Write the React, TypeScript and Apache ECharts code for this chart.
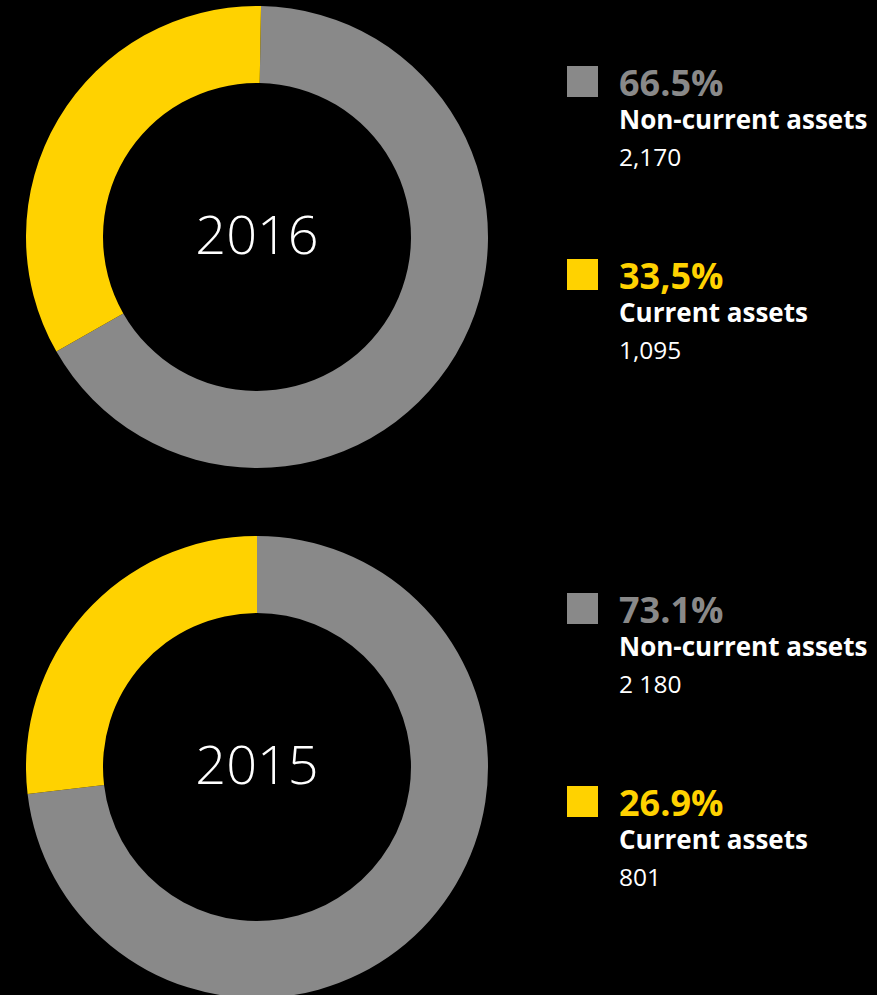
import React, { useEffect, useRef } from "react";
import * as echarts from "echarts";

const years = ["2016", "2015"];
const categories = ["Non-current assets", "Current assets"];
const values2016 = [2170, 1095];
const values2015 = [2180, 801];
const percentLabels2016 = ["66.5%", "33,5%"];
const percentLabels2015 = ["73.1%", "26.9%"];
const valueLabels2016 = ["2,170", "1,095"];
const valueLabels2015 = ["2 180", "801"];

const GRAY = "#898989";
const YELLOW = "#ffd200";
const COLORS = [GRAY, YELLOW];
const FONT = "'Open Sans', 'Noto Sans', sans-serif";

export default function App() {
  const ref = useRef<HTMLDivElement>(null);

  useEffect(() => {
    document.body.style.margin = "0";
    document.body.style.background = "#000";
    if (!ref.current) return;
    const chart = echarts.init(ref.current, null, { renderer: "svg" });

    const allValues = [values2016, values2015];
    const allPercents = [percentLabels2016, percentLabels2015];
    const allValueLabels = [valueLabels2016, valueLabels2015];
    const centersY = [237, 767];
    const startAngles = [89, 90];
    const groupTop = [0, 527];
    const entryStep = 193;

    const series: any[] = years.map((y, i) => ({
      type: "pie",
      name: y,
      center: [257, centersY[i]],
      radius: [154, 231],
      startAngle: startAngles[i],
      clockwise: true,
      label: { show: false },
      labelLine: { show: false },
      silent: true,
      itemStyle: { borderWidth: 0 },
      data: categories.map((c, k) => ({
        name: c,
        value: allValues[i][k],
        itemStyle: { color: COLORS[k] },
      })),
    }));

    const graphic: any[] = [];
    years.forEach((y, i) => {
      graphic.push({
        type: "text",
        style: {
          text: y,
          x: 257,
          y: centersY[i] - 4,
          fill: "#ffffff",
          font: `300 54px ${FONT}`,
          align: "center",
          verticalAlign: "middle",
          textAlign: "center",
          textVerticalAlign: "middle",
        },
      });
      categories.forEach((c, k) => {
        const off = groupTop[i] + k * entryStep;
        graphic.push({
          type: "rect",
          shape: { x: 567, y: 66 + off, width: 31, height: 31 },
          style: { fill: COLORS[k] },
        });
        const texts = [
          { t: allPercents[i][k], y: 82, font: `bold 36px ${FONT}`, fill: COLORS[k] },
          { t: c, y: 119, font: `bold 26px ${FONT}`, fill: "#ffffff" },
          { t: allValueLabels[i][k], y: 156, font: `400 24.5px ${FONT}`, fill: "#ffffff" },
        ];
        texts.forEach((tx) => {
          graphic.push({
            type: "text",
            style: {
              text: tx.t,
              x: 619,
              y: tx.y + off,
              fill: tx.fill,
              font: tx.font,
              align: "left",
              verticalAlign: "middle",
              textAlign: "left",
              textVerticalAlign: "middle",
            },
          });
        });
      });
    });

    chart.setOption({
      animation: false,
      backgroundColor: "#000000",
      series,
      graphic,
    });

    return () => chart.dispose();
  }, []);

  return (
    <div
      ref={ref}
      style={{
        position: "absolute",
        left: 0,
        top: 0,
        width: 877,
        height: 995,
        background: "#000",
      }}
    />
  );
}
